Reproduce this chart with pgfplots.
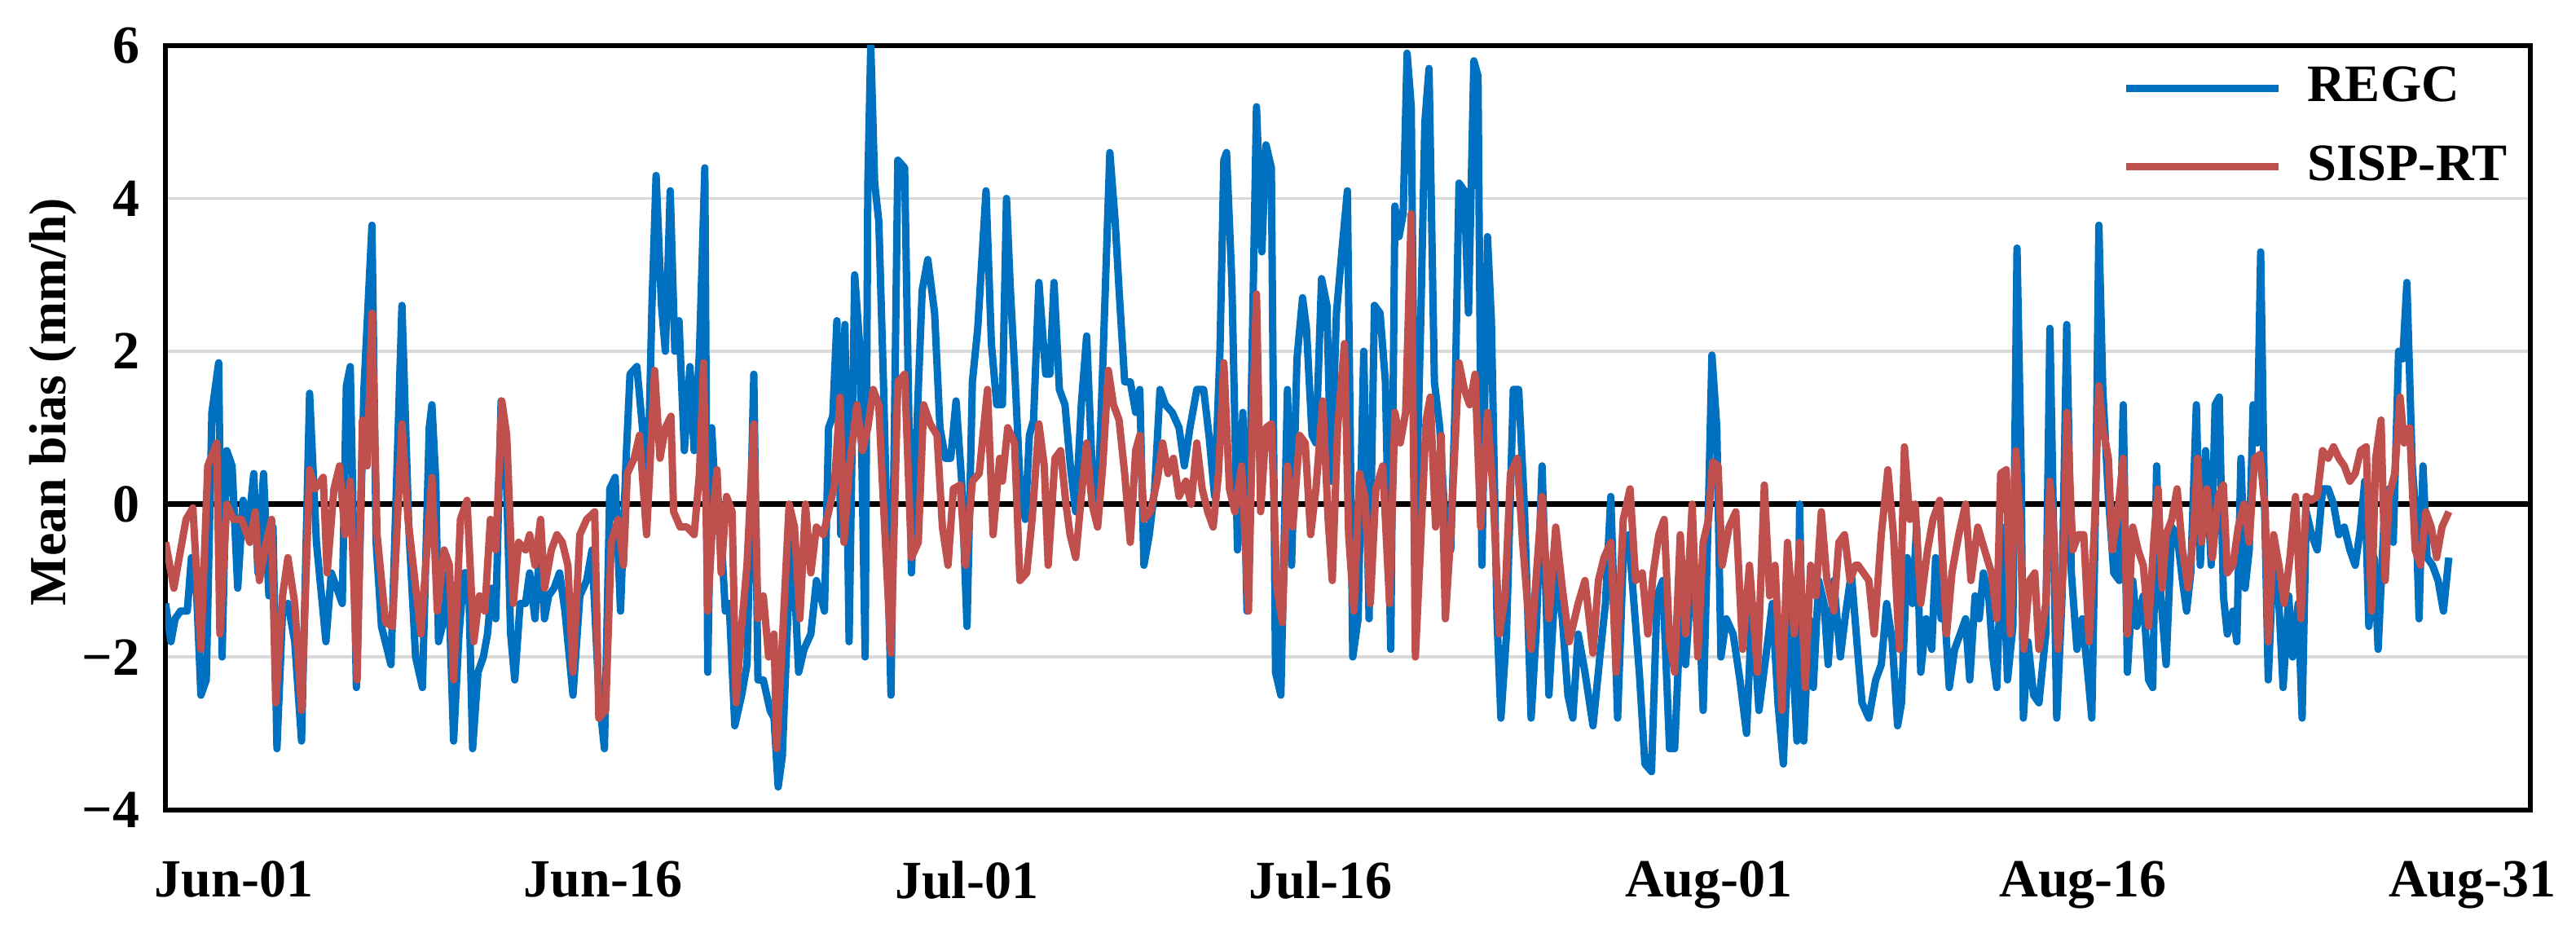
\documentclass[border=0pt]{standalone}
\usepackage{fontspec}
\setmainfont{Liberation Serif}
\usepackage{pgfplots}
\usepackage{pgfplotstable}
\pgfplotsset{compat=1.18}
\definecolor{regc}{RGB}{0,112,192}
\definecolor{sisp}{RGB}{192,80,77}
\definecolor{gridgray}{RGB}{217,217,217}

% x = days after Jun-01 (as placed on the chart), y = mean bias (mm/h)
\pgfplotstableread{
d v
-2.80 -1.3
-2.58 -1.8
-2.41 -1.5
-2.19 -1.4
-1.91 -1.4
-1.74 -0.7
-1.52 -1.2
-1.35 -2.5
-1.13 -2.3
-0.90 1.2
-0.62 1.85
-0.48 -2.0
-0.29 0.7
-0.07 0.5
0.16 -1.1
0.38 0.05
0.60 -0.3
0.82 0.4
0.99 -0.9
1.22 0.4
1.44 -1.2
1.61 -0.3
1.77 -3.2
2.00 -1.4
2.22 -1.3
2.50 -1.8
2.78 -3.1
3.11 1.45
3.39 -0.5
3.78 -1.8
4.00 -0.9
4.23 -1.1
4.45 -1.3
4.62 1.55
4.78 1.8
5.03 -2.4
5.34 1.5
5.67 3.65
5.84 -0.5
6.06 -1.6
6.45 -2.1
6.90 2.6
7.18 -0.3
7.46 -2.0
7.74 -2.4
8.02 1.0
8.13 1.3
8.29 0.3
8.40 -1.8
8.63 -1.5
8.80 -0.9
9.02 -3.1
9.24 -1.7
9.45 -0.9
9.63 -0.9
9.80 -3.2
10.02 -2.2
10.24 -2.0
10.41 -1.7
10.58 -1.1
10.75 -1.5
10.97 1.35
11.14 0.9
11.36 -1.7
11.53 -2.3
11.75 -1.3
11.97 -1.3
12.14 -0.9
12.36 -1.5
12.59 -0.4
12.75 -1.5
12.92 -1.2
13.14 -1.1
13.37 -0.9
13.59 -1.4
13.92 -2.5
14.20 -1.2
14.48 -1.0
14.70 -0.6
14.98 -2.5
15.21 -3.2
15.43 0.2
15.65 0.35
15.87 -1.4
16.10 0.6
16.26 1.7
16.54 1.8
16.77 1.0
16.99 0.3
17.16 2.6
17.33 4.3
17.55 2.6
17.71 2.0
17.91 4.1
18.10 2.0
18.27 2.4
18.49 0.7
18.72 1.8
18.89 0.7
19.11 2.0
19.33 4.4
19.45 -2.2
19.61 1.0
19.83 -0.3
20.00 -0.4
20.17 -1.4
20.33 -1.3
20.56 -2.9
20.84 -2.5
21.06 -2.1
21.34 1.7
21.51 -2.3
21.73 -2.3
22.01 -2.7
22.17 -2.8
22.34 -3.7
22.51 -3.3
22.73 -1.5
22.90 -0.3
23.18 -2.2
23.40 -1.9
23.68 -1.7
23.91 -1.0
24.08 -1.2
24.24 -1.4
24.41 1.0
24.58 1.15
24.75 2.4
24.91 -0.4
25.08 2.35
25.25 -1.8
25.48 3.0
25.70 2.0
25.91 -2.0
26.02 4.2
26.14 6.0
26.30 4.2
26.47 3.7
26.66 1.6
26.97 -2.5
27.25 4.5
27.53 4.4
27.81 -0.9
28.09 1.5
28.25 2.8
28.48 3.2
28.76 2.5
28.98 1.0
29.20 0.6
29.42 0.6
29.64 1.35
29.87 0.3
30.09 -1.6
30.31 1.6
30.53 2.3
30.87 4.1
31.09 2.1
31.31 1.3
31.54 1.3
31.71 4.0
31.87 2.8
32.04 1.8
32.26 0.3
32.48 -0.2
32.65 0.9
32.82 1.1
33.04 2.9
33.32 1.7
33.49 1.7
33.66 2.9
33.88 1.5
34.11 1.3
34.33 0.5
34.55 -0.1
34.78 1.3
35.00 2.2
35.22 0.5
35.45 -0.1
35.66 1.8
35.95 4.6
36.17 3.7
36.33 2.8
36.56 1.6
36.79 1.6
37.01 1.2
37.18 1.5
37.35 -0.8
37.57 -0.4
37.79 0.2
38.01 1.5
38.23 1.3
38.51 1.2
38.79 1.0
39.01 0.5
39.24 1.0
39.52 1.5
39.80 1.5
40.02 0.9
40.25 0.1
40.47 2.0
40.63 4.5
40.74 4.6
40.96 2.9
41.19 -0.6
41.41 1.2
41.58 -1.4
41.74 1.1
41.97 5.2
42.19 3.3
42.36 4.7
42.58 4.4
42.75 -2.2
42.97 -2.5
43.24 1.5
43.41 -0.8
43.63 1.9
43.86 2.7
44.02 2.3
44.25 0.9
44.41 0.8
44.64 2.95
44.86 2.6
45.03 0.3
45.25 2.5
45.47 3.3
45.70 4.1
45.92 -2.0
46.14 -1.5
46.37 2.0
46.59 -1.5
46.81 2.6
47.04 2.5
47.26 1.6
47.48 -1.9
47.65 3.9
47.82 3.5
47.99 3.8
48.15 5.9
48.32 5.2
48.49 -0.5
48.71 2.4
48.88 5.0
49.05 5.7
49.27 1.6
49.49 1.0
49.72 -0.3
49.94 -0.6
50.11 1.2
50.28 4.2
50.50 4.1
50.67 2.5
50.89 5.8
51.06 5.6
51.22 -0.8
51.45 3.5
51.61 2.4
51.84 -1.5
52.00 -2.8
52.23 -1.7
52.51 1.5
52.73 1.5
52.96 0.0
53.24 -2.8
53.46 -1.6
53.69 0.5
53.97 -2.5
54.25 -0.9
54.52 -1.5
54.75 -2.5
54.95 -2.8
55.17 -1.7
55.45 -2.2
55.78 -2.9
56.06 -2.0
56.29 -1.3
56.51 0.1
56.79 -2.8
57.02 -0.7
57.24 -0.4
57.46 -1.3
57.68 -2.2
57.91 -3.4
58.18 -3.5
58.41 -1.2
58.64 -1.0
58.92 -3.2
59.13 -3.2
59.36 -1.5
59.58 -2.1
59.85 -0.8
60.13 -1.3
60.30 -2.7
60.52 0.0
60.66 1.95
60.86 1.0
61.03 -2.0
61.25 -1.5
61.53 -1.7
61.81 -2.3
62.08 -3.0
62.31 -1.3
62.59 -2.7
62.87 -2.0
63.14 -1.3
63.37 -2.6
63.59 -3.4
63.87 -1.3
64.15 -3.1
64.26 0.0
64.43 -3.1
64.65 -1.5
64.82 -2.4
65.04 -1.0
65.26 -1.3
65.43 -2.1
65.66 -1.0
65.93 -2.0
66.16 -1.4
66.38 -0.9
66.66 -2.0
66.82 -2.6
67.10 -2.8
67.38 -2.3
67.61 -2.1
67.83 -1.3
68.06 -1.8
68.28 -2.9
68.44 -2.6
68.67 -0.7
68.89 -1.3
69.06 -0.3
69.23 -2.2
69.45 -1.5
69.68 -1.9
69.84 -0.7
70.07 -1.5
70.23 -1.5
70.40 -2.4
70.62 -1.9
70.85 -1.7
71.07 -1.5
71.24 -2.3
71.46 -1.2
71.63 -1.5
71.80 -0.9
72.02 -1.2
72.19 -2.0
72.35 -2.4
72.57 -0.3
72.79 -2.3
73.01 -1.6
73.18 3.35
73.35 0.5
73.44 -2.8
73.63 -1.8
73.86 -2.5
74.08 -2.6
74.36 -1.7
74.53 2.3
74.64 0.4
74.81 -2.8
75.03 -1.2
75.22 2.35
75.41 -0.9
75.64 -1.9
75.86 -1.5
76.08 -2.2
76.25 -2.8
76.42 0.3
76.54 3.65
76.70 1.5
76.93 0.1
77.15 -0.9
77.38 -1.0
77.54 1.3
77.71 -2.2
77.93 -1.0
78.10 -1.6
78.36 -1.2
78.58 -2.3
78.75 -2.4
78.91 0.5
79.08 -1.2
79.30 -2.1
79.53 -0.3
79.75 -0.4
79.97 -1.0
80.14 -1.4
80.31 -0.9
80.54 1.3
80.70 -0.8
80.92 0.7
81.15 -0.8
81.31 1.3
81.48 1.4
81.65 -1.2
81.81 -1.7
82.04 -1.4
82.20 -1.8
82.37 0.6
82.54 -1.1
82.71 -0.6
82.87 1.3
83.04 0.8
83.18 3.3
83.32 0.3
83.49 -2.3
83.71 -0.6
83.88 -1.0
84.10 -2.4
84.33 -1.2
84.49 -2.0
84.72 -1.3
84.88 -2.8
85.05 -0.1
85.27 -0.4
85.50 -0.6
85.72 0.2
85.95 0.2
86.17 0.0
86.39 -0.4
86.61 -0.3
86.84 -0.6
87.06 -0.8
87.28 -0.3
87.45 0.3
87.62 -1.6
87.84 -0.7
88.00 -1.9
88.23 -0.3
88.45 0.2
88.62 -0.5
88.84 2.0
89.01 1.9
89.18 2.9
89.40 0.5
89.56 -0.2
89.68 -1.5
89.84 0.5
90.01 -0.7
90.23 -0.8
90.46 -1.0
90.68 -1.4
90.90 -0.7
}\tabREGC

\pgfplotstableread{
d v
-2.80 -0.5
-2.46 -1.1
-2.24 -0.7
-1.96 -0.2
-1.68 -0.05
-1.35 -1.9
-1.07 0.5
-0.70 0.8
-0.57 -1.7
-0.29 0.0
-0.01 -0.2
0.32 -0.2
0.66 -0.5
0.88 -0.1
1.05 -1.0
1.33 -0.5
1.55 -0.2
1.72 -2.6
2.00 -1.2
2.22 -0.7
2.50 -1.3
2.78 -2.7
3.11 0.45
3.33 0.2
3.67 0.35
3.83 -0.9
4.11 0.2
4.34 0.5
4.56 -0.4
4.78 0.3
5.06 -2.3
5.28 1.1
5.47 0.5
5.67 2.5
5.88 -0.4
6.23 -1.55
6.51 -1.6
6.90 1.05
7.15 -0.2
7.68 -1.7
8.13 0.35
8.35 -1.4
8.63 -0.6
8.85 -0.8
9.02 -2.3
9.30 -0.2
9.57 0.05
9.85 -1.8
10.08 -1.2
10.30 -1.4
10.53 -0.2
10.75 -0.6
11.00 1.35
11.20 0.9
11.47 -1.3
11.69 -0.5
11.97 -0.6
12.14 -0.4
12.36 -0.8
12.59 -0.2
12.75 -1.1
13.03 -0.6
13.26 -0.4
13.48 -0.5
13.71 -0.8
13.92 -2.2
14.20 -0.4
14.48 -0.2
14.81 -0.1
14.98 -2.8
15.26 -2.7
15.49 -0.5
15.77 -0.2
15.99 -0.8
16.15 0.4
16.43 0.6
16.65 0.9
16.94 -0.4
17.27 1.75
17.49 0.6
17.71 1.0
17.94 1.15
18.05 -0.1
18.32 -0.3
18.60 -0.3
18.89 -0.4
19.11 0.4
19.28 1.85
19.45 -1.4
19.67 -0.1
19.83 0.45
20.00 -0.9
20.22 0.1
20.45 -0.1
20.61 -2.6
20.84 -1.6
21.06 -0.8
21.34 1.05
21.51 -1.5
21.73 -1.2
21.95 -2.0
22.17 -1.7
22.28 -3.2
22.51 -1.8
22.79 0.0
23.01 -0.3
23.23 -1.5
23.46 0.0
23.68 -0.9
23.91 -0.3
24.19 -0.4
24.41 -0.1
24.65 0.25
24.88 1.4
25.04 -0.5
25.27 0.5
25.57 1.3
25.80 0.7
26.02 1.0
26.24 1.5
26.47 1.3
26.63 0.2
26.97 -1.95
27.25 1.6
27.53 1.7
27.81 -0.7
28.09 -0.5
28.31 1.3
28.58 1.05
28.86 0.9
29.08 -0.3
29.31 -0.8
29.53 0.2
29.81 0.25
30.03 -0.8
30.31 0.3
30.59 0.4
30.93 1.5
31.16 -0.4
31.43 0.6
31.54 0.3
31.76 1.0
32.04 0.8
32.26 -1.0
32.54 -0.9
32.76 -0.2
33.04 1.05
33.26 0.5
33.42 -0.8
33.70 0.6
33.93 0.7
34.15 0.0
34.32 -0.4
34.55 -0.7
34.78 0.1
35.00 0.8
35.22 0.0
35.45 -0.3
35.66 0.5
35.89 1.75
36.10 1.3
36.33 1.1
36.56 0.4
36.79 -0.5
37.01 0.7
37.18 0.9
37.35 -0.2
37.62 -0.1
37.89 0.3
38.12 0.8
38.34 0.4
38.56 0.6
38.79 0.1
39.07 0.3
39.29 0.0
39.52 0.8
39.74 0.2
39.97 -0.1
40.19 -0.3
40.41 0.4
40.63 1.85
40.86 0.2
41.08 -0.1
41.36 0.5
41.64 -1.4
41.80 1.0
41.97 2.75
42.14 -0.1
42.36 1.0
42.58 1.05
42.81 -1.1
43.03 -1.55
43.24 0.5
43.46 -0.3
43.74 0.9
43.97 0.8
44.19 -0.4
44.41 0.2
44.69 1.35
44.91 -0.2
45.08 -1.0
45.30 1.0
45.58 2.1
45.75 -0.4
45.97 -1.4
46.20 0.4
46.42 0.1
46.64 -1.3
46.87 0.2
47.15 0.5
47.43 -1.3
47.65 1.2
47.87 0.8
48.09 1.2
48.32 3.8
48.49 -2.0
48.71 -0.5
48.93 1.1
49.10 1.4
49.32 -0.3
49.55 0.9
49.72 -1.5
49.94 -0.4
50.28 1.85
50.50 1.5
50.72 1.3
50.94 1.7
51.17 -0.3
51.45 1.2
51.67 0.2
51.94 -1.7
52.17 -1.2
52.39 0.4
52.67 0.6
52.89 -0.5
53.24 -1.9
53.46 -0.9
53.69 0.1
53.97 -1.5
54.25 -0.3
54.52 -1.1
54.80 -1.8
54.95 -1.6
55.17 -1.3
55.45 -1.0
55.78 -1.95
56.00 -1.0
56.23 -0.7
56.51 -0.5
56.73 -2.2
57.02 -0.2
57.30 0.2
57.53 -1.0
57.80 -0.9
58.03 -1.7
58.25 -0.9
58.48 -0.4
58.70 -0.2
58.92 -1.8
59.13 -2.2
59.36 -0.4
59.58 -1.7
59.85 0.0
60.08 -2.0
60.30 -0.5
60.52 -0.2
60.69 0.55
60.91 0.5
61.08 -0.8
61.36 -0.3
61.64 -0.1
61.92 -1.9
62.20 -0.8
62.53 -2.2
62.81 0.25
63.03 -1.2
63.25 -0.8
63.53 -2.7
63.76 -0.5
64.04 -1.7
64.26 -0.5
64.49 -2.4
64.71 -0.8
64.93 -1.2
65.15 -0.1
65.38 -1.0
65.66 -1.4
65.87 -0.5
66.10 -0.4
66.33 -1.0
66.55 -0.8
66.66 -0.8
66.88 -0.9
67.10 -1.0
67.32 -1.7
67.61 -0.4
67.88 0.45
68.11 -0.4
68.35 -1.9
68.56 0.75
68.78 -0.2
69.00 0.0
69.23 -1.3
69.51 -0.6
69.73 -0.2
70.01 0.05
70.29 -1.7
70.51 -0.9
70.79 -0.4
71.07 0.0
71.29 -1.0
71.57 -0.3
71.85 -0.6
72.13 -0.9
72.35 -1.5
72.51 0.4
72.74 0.45
72.91 -1.7
73.13 0.7
73.30 -0.2
73.46 -1.9
73.69 -1.0
73.91 -0.9
74.08 -1.9
74.36 -1.3
74.53 0.3
74.70 -0.4
74.86 -1.9
75.09 -0.8
75.23 1.2
75.47 -0.6
75.70 -0.4
75.92 -0.4
76.14 -1.8
76.37 -0.2
76.54 1.55
76.70 1.0
76.93 0.6
77.09 -0.6
77.32 -0.1
77.54 0.6
77.71 -1.7
77.93 -0.3
78.15 -0.6
78.36 -0.8
78.58 -1.6
78.81 -0.4
78.97 0.2
79.14 -1.1
79.30 -0.4
79.53 -0.2
79.75 0.2
79.97 -0.6
80.20 -1.1
80.42 -0.4
80.59 0.6
80.75 -0.5
80.98 0.2
81.20 -0.7
81.44 0.1
81.65 0.25
81.81 -0.9
82.04 -0.8
82.26 -0.3
82.49 0.0
82.71 -0.5
82.93 0.6
83.15 0.65
83.37 -0.1
83.49 -1.8
83.71 -0.4
83.93 -0.8
84.15 -1.3
84.38 -0.7
84.61 0.1
84.83 -1.5
85.05 0.1
85.27 0.05
85.50 0.1
85.72 0.7
85.95 0.6
86.17 0.75
86.39 0.6
86.61 0.5
86.84 0.3
87.06 0.4
87.28 0.7
87.51 0.75
87.73 -1.4
87.90 0.6
88.12 1.1
88.29 -1.0
88.45 0.1
88.68 0.4
88.90 1.4
89.07 0.8
89.29 1.0
89.52 -0.6
89.74 -0.8
89.96 -0.1
90.18 -0.3
90.40 -0.7
90.62 -0.3
90.90 -0.1
}\tabSISP

\begin{document}
\begin{tikzpicture}
\begin{axis}[
  scale only axis,
  width=14.69cm, height=4.747cm,
  xmin=-2.81, xmax=94.25,
  ymin=-4, ymax=6,
  axis line style={black, line width=0.9pt},
  ytick={-4,-2,0,2,4,6},
  yticklabels={−4,−2,0,2,4,6},
  xtick={0,15.15,30.07,44.6,60.53,75.89,91.87},
  xticklabels={Jun-01,Jun-16,Jul-01,Jul-16,Aug-01,Aug-16,Aug-31},
  major tick length=0pt,
  ymajorgrids,
  major grid style={gridgray, line width=0.5pt},
  extra y ticks={0},
  extra y tick labels={},
  extra y tick style={grid=major, major grid style={black, line width=0.9pt}},
  tick label style={font=\fontsize{9.5}{11}\selectfont\bfseries},
  xticklabel style={yshift=-5.5pt},
  yticklabel style={xshift=-1pt},
  ylabel={Mean bias (mm/h)},
  every axis y label/.style={at={(axis description cs:-0.0476,0.534)}, rotate=90, anchor=center, font=\fontsize{9.2}{11}\selectfont\bfseries},
  legend style={draw=none, fill=none, at={(axis description cs:0.827,0.974)}, anchor=north west,
    inner sep=0pt, row sep=0.22cm, font=\fontsize{9.3}{11}\selectfont\bfseries,
    nodes={inner sep=0pt},
    /tikz/every odd column/.append style={column sep=0.157cm}},
  legend cell align=left,
  legend image code/.code={\draw[#1] (0cm,0cm) -- (0.946cm,0cm);},
]
\addplot[regc, line width=1.3pt, line join=round] table[x=d, y=v] {\tabREGC};
\addlegendentry{REGC}
\addplot[sisp, line width=1.3pt, line join=round] table[x=d, y=v] {\tabSISP};
\addlegendentry{SISP-RT}
\end{axis}
\path (current axis.south west) ++(-1.027cm,-0.795cm) coordinate (bbsw);
\path (current axis.north east) ++(0.283cm,0.283cm) coordinate (bbne);
\path (bbsw) rectangle (bbne);
\end{tikzpicture}
\end{document}
